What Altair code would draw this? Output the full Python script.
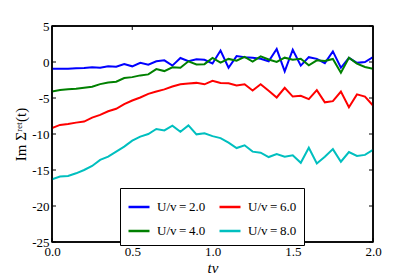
import altair as alt
import pandas as pd

t = [0.0, 0.05, 0.1, 0.15, 0.2, 0.25, 0.3, 0.35, 0.4, 0.45, 0.5, 0.55, 0.6, 0.65,
     0.7, 0.75, 0.8, 0.85, 0.9, 0.95, 1.0, 1.05, 1.1, 1.15, 1.2, 1.25, 1.3, 1.35,
     1.4, 1.45, 1.5, 1.55, 1.6, 1.65, 1.7, 1.75, 1.8, 1.85, 1.9, 1.95, 2.0]

u2 = [-0.93, -0.93, -0.93, -0.88, -0.84, -0.74, -0.8, -0.6, -0.65, -0.28, -0.6,
      -0.1, -0.37, 0.1, 0.23, -0.5, 0.56, 0.1, 0.37, 0.3, -0.2, 1.6, -0.8, 0.82,
      0.67, 0.58, 0.44, 0.1, 1.8, -1.3, 1.7, -0.5, 0.67, 0.44, -0.16, 1.47, -0.8,
      0.58, -0.12, 0.0, 0.67]
u4 = [-4.1, -3.9, -3.77, -3.72, -3.58, -3.44, -3.07, -2.84, -2.74, -2.23, -2.1,
      -1.86, -1.72, -0.98, -1.26, -0.74, -0.8, 0.1, -0.33, -0.3, 0.56, -0.1, 0.43,
      0.18, 0.7, 0.07, 0.79, 0.35, 0.0, 0.6, 0.33, 0.44, -0.47, 0.23, 0.14, 0.42,
      -1.5, 0.6, -0.23, -0.7, -0.93]
u6 = [-9.16, -8.74, -8.6, -8.42, -8.28, -7.72, -7.35, -6.84, -6.5, -5.86, -5.35,
      -4.93, -4.42, -4.1, -3.8, -3.4, -3.1, -3.0, -2.9, -3.1, -2.6, -2.92, -2.95,
      -3.25, -3.1, -3.95, -3.1, -4.0, -4.93, -3.58, -4.8, -4.7, -5.16, -3.9, -5.6,
      -5.44, -4.1, -6.28, -4.5, -4.8, -6.05]
u8 = [-16.3, -15.9, -15.83, -15.46, -15.0, -14.44, -13.6, -13.15, -12.45, -11.76,
      -10.93, -10.37, -10.0, -9.3, -9.5, -8.84, -9.7, -8.8, -10.05, -9.9, -10.3,
      -10.57, -11.2, -11.95, -11.57, -12.45, -12.6, -13.2, -12.8, -13.15, -12.96,
      -14.0, -11.9, -14.1, -13.15, -12.1, -13.85, -12.5, -13.05, -12.9, -12.2]

labels = ["U/v\u2009=\u20092.0", "U/v\u2009=\u20094.0",
          "U/v\u2009=\u20096.0", "U/v\u2009=\u20098.0"]
colors = ["#0000ff", "#008000", "#ff0000", "#00bfbf"]
x_ticks = [0.0, 0.5, 1.0, 1.5, 2.0]
y_ticks = [5, 0, -5, -10, -15, -20, -25]
x_range = [0.0, 2.0]
y_range = [-25, 5]

rows = []
for lab, vals in zip(labels, [u2, u4, u6, u8]):
    for tt, v in zip(t, vals):
        rows.append({"tv": tt, "sigma": v, "series": lab})
df = pd.DataFrame(rows)

W, H = 321, 216
SERIF = "Liberation Serif"
xscale = alt.Scale(domain=x_range, nice=False, zero=False)
yscale = alt.Scale(domain=y_range, nice=False, zero=False)

x_axis = alt.Axis(title="tv", values=x_ticks, format=".1f", ticks=False,
                  grid=False, domain=False, labelPadding=3, labelFlush=False,
                  titleFontStyle="italic", titleFontSize=15,
                  titleFontWeight="normal", titleY=25, titleBaseline="middle")
y_axis = alt.Axis(title="Im Σʳᵉᵗ(t)", values=y_ticks,
                  labelExpr="'' + datum.value", ticks=False, grid=False,
                  domain=False, labelPadding=3, labelFlush=False,
                  titleFontSize=15,
                  titleFontWeight="normal", titleX=-32, titleY=H / 2,
                  titleAngle=270, titleAlign="center", titleBaseline="middle")

lines = alt.Chart(df).mark_line(strokeWidth=2, clip=True).encode(
    x=alt.X("tv:Q", scale=xscale, axis=x_axis),
    y=alt.Y("sigma:Q", scale=yscale, axis=y_axis),
    color=alt.Color("series:N",
                    scale=alt.Scale(domain=labels, range=colors),
                    legend=alt.Legend(title=None, orient="none", legendX=68,
                                      legendY=162, columns=2,
                                      symbolType="stroke", symbolStrokeWidth=2.5,
                                      symbolSize=441, labelFont=SERIF,
                                      labelFontSize=13, labelOffset=6,
                                      padding=7, rowPadding=5, columnPadding=8,
                                      strokeColor="black", fillColor="white",
                                      cornerRadius=0)),
)

ydf = pd.DataFrame({"sigma": y_ticks})
xdf = pd.DataFrame({"tv": x_ticks})
tick_left = alt.Chart(ydf).mark_rule(color="black", strokeWidth=1).encode(
    y=alt.Y("sigma:Q", scale=yscale, axis=y_axis), x=alt.value(0), x2=alt.value(4))
tick_right = alt.Chart(ydf).mark_rule(color="black", strokeWidth=1).encode(
    y=alt.Y("sigma:Q", scale=yscale, axis=y_axis), x=alt.value(W - 4), x2=alt.value(W))
tick_bottom = alt.Chart(xdf).mark_rule(color="black", strokeWidth=1).encode(
    x=alt.X("tv:Q", scale=xscale, axis=x_axis), y=alt.value(H), y2=alt.value(H - 4))
tick_top = alt.Chart(xdf).mark_rule(color="black", strokeWidth=1).encode(
    x=alt.X("tv:Q", scale=xscale, axis=x_axis), y=alt.value(0), y2=alt.value(4))

frame_h = alt.Chart(pd.DataFrame({"sigma": y_range})).mark_rule(
    color="black", strokeWidth=1.5).encode(
    y=alt.Y("sigma:Q", scale=yscale, axis=y_axis), x=alt.value(0), x2=alt.value(W))
frame_v = alt.Chart(pd.DataFrame({"tv": x_range})).mark_rule(
    color="black", strokeWidth=1.5).encode(
    x=alt.X("tv:Q", scale=xscale, axis=x_axis), y=alt.value(0), y2=alt.value(H))

chart = alt.layer(lines, tick_left, tick_right, tick_bottom, tick_top,
                  frame_h, frame_v).properties(
    width=W, height=H, background="white",
    padding={"left": 44, "top": 18, "right": 30, "bottom": 34},
    autosize=alt.AutoSizeParams(type="none"),
).configure_view(stroke="black", strokeWidth=1.5).configure_axis(
    labelFont=SERIF, labelFontSize=13, labelColor="black",
    titleFont=SERIF, titleColor="black",
)

chart.save("out.html", embed_options={"renderer": "svg", "actions": False})
